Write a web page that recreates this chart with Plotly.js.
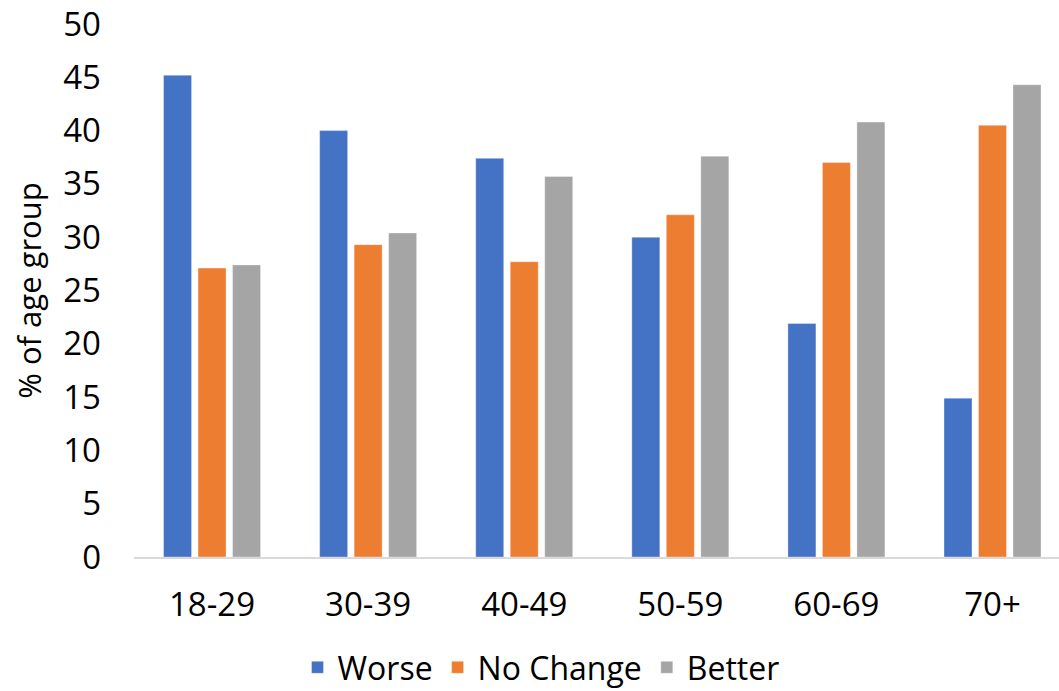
<!DOCTYPE html>
<html>
<head>
<meta charset="utf-8">
<script src="https://cdn.plot.ly/plotly-3.0.1.min.js"></script>
<style>
  html, body { margin: 0; padding: 0; background: #ffffff; }
  #chart { width: 1059px; height: 691px; }
</style>
</head>
<body>
<div id="chart"></div>
<script>
// Share of each age group reporting a change (%)
const ageGroups = ["18-29", "30-39", "40-49", "50-59", "60-69", "70+"];
const worse     = [45.2, 40.0, 37.4, 30.0, 21.9, 14.9];
const noChange  = [27.1, 29.3, 27.7, 32.1, 37.0, 40.5];
const better    = [27.4, 30.4, 35.7, 37.6, 40.8, 44.3];
const yTicks    = [0, 5, 10, 15, 20, 25, 30, 35, 40, 45, 50];

const FONT = "Open Sans, Liberation Sans, sans-serif";

function barTrace(name, values, color) {
  return {
    type: "bar",
    name: name,
    x: ageGroups,
    y: values,
    marker: { color: color, line: { width: 1, color: "rgba(255,255,255,0.35)" } },
    hoverinfo: "x+y+name"
  };
}

const data = [
  barTrace("Worse", worse, "#4472c4"),
  barTrace("No Change", noChange, "#ed7d31"),
  barTrace("Better", better, "#a5a5a5")
];

const layout = {
  width: 1059,
  height: 691,
  paper_bgcolor: "#ffffff",
  plot_bgcolor: "#ffffff",
  margin: { l: 134, r: 0, t: 24, b: 134, pad: 0, autoexpand: false },
  barmode: "group",
  bargap: 0.337,
  bargroupgap: 0.188,
  font: { family: FONT, color: "#000000", size: 33 },
  xaxis: {
    type: "category",
    range: [-0.5, 5.426],
    showgrid: false,
    zeroline: false,
    showline: true,
    linecolor: "#d9d9d9",
    linewidth: 1.5,
    ticks: "",
    ticklabelstandoff: 18,
    automargin: false,
    tickfont: { family: FONT, size: 33, color: "#000000" }
  },
  yaxis: {
    range: [0, 50],
    tickvals: yTicks,
    ticktext: yTicks.map(String),
    showgrid: false,
    zeroline: false,
    showline: false,
    ticks: "",
    ticklabelstandoff: 32,
    automargin: false,
    tickfont: { family: FONT, size: 33, color: "#000000" },
    title: {
      text: "% of age group",
      font: { family: FONT, size: 31, color: "#000000" },
      standoff: 12
    }
  },
  showlegend: true,
  legend: {
    orientation: "h",
    x: 0.44,
    xanchor: "center",
    yref: "container",
    y: 0.034,
    yanchor: "middle",
    font: { family: FONT, size: 32, color: "#000000" },
    itemwidth: 30,
    traceorder: "normal"
  }
};

Plotly.newPlot("chart", data, layout, { displayModeBar: false, responsive: false });
</script>
</body>
</html>
